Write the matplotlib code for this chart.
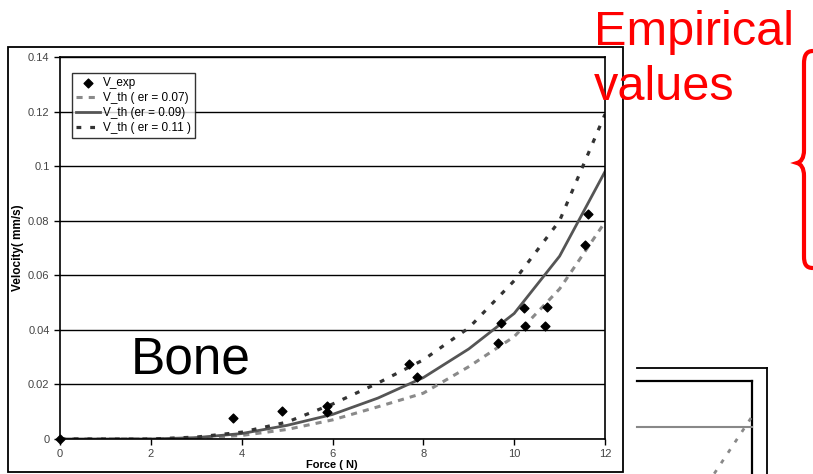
import matplotlib
matplotlib.use('Agg')
import matplotlib.pyplot as plt
from matplotlib import font_manager
from matplotlib.path import Path
from matplotlib.patches import PathPatch, Rectangle
from matplotlib.lines import Line2D

# measured points
force_exp = [0, 3.82, 4.88, 5.87, 5.87, 7.69, 7.85, 9.65, 9.72, 10.21, 10.23, 10.67, 10.72, 11.56, 11.62]
v_exp = [0, 0.0078, 0.0103, 0.0122, 0.0100, 0.0274, 0.0228, 0.0351, 0.0424, 0.0481, 0.0415, 0.0415, 0.0485, 0.0712, 0.0824]

# theoretical curves
force_th = [0, 1, 2, 3, 4, 5, 6, 7, 8, 9, 10, 11, 12]
v_th_07 = [0, 0, 0, 0.0003, 0.0013, 0.0035, 0.0070, 0.0118, 0.0168, 0.0265, 0.0375, 0.0550, 0.0795]
v_th_09 = [0, 0, 0, 0.0005, 0.0020, 0.0050, 0.0090, 0.0150, 0.0225, 0.0330, 0.0460, 0.0670, 0.0980]
v_th_11 = [0, 0, 0, 0.0007, 0.0025, 0.0062, 0.0128, 0.0205, 0.0290, 0.0407, 0.0580, 0.0800, 0.1190]

labels = ['V_exp', 'V_th ( er = 0.07)', 'V_th (er = 0.09)', 'V_th ( er = 0.11 )']
x_ticks = [0, 2, 4, 6, 8, 10, 12]
y_ticks = [0, 0.02, 0.04, 0.06, 0.08, 0.1, 0.12, 0.14]
y_ticklabels = ['0', '0.02', '0.04', '0.06', '0.08', '0.1', '0.12', '0.14']

W, H = 813, 474

def fx(px):
    return px / W

def fy(py):
    return 1 - py / H

names = {f.name for f in font_manager.fontManager.ttflist}
narrow = 'Liberation Sans Narrow' in names
plt.rcParams['font.family'] = ['Liberation Sans', 'DejaVu Sans']

fig = plt.figure(figsize=(W / 100, H / 100), dpi=100)
fig.patch.set_facecolor('white')

# outer chart frame
fig.patches.append(Rectangle((fx(8), fy(472)), fx(615), 425 / H, transform=fig.transFigure,
                             fill=False, edgecolor='black', linewidth=1.3))

ax = fig.add_axes([fx(60), fy(439), fx(545), 382 / H])
ax.plot(force_th, v_th_07, color='#8a8a8a', linewidth=2.2, dashes=(2, 2), label=labels[1])
ax.plot(force_th, v_th_09, color='#555555', linewidth=2, label=labels[2])
ax.plot(force_th, v_th_11, color='#333333', linewidth=2.3, dashes=(1.5, 2.8), label=labels[3])
ax.scatter(force_exp, v_exp, marker='D', s=20, color='black', zorder=5, clip_on=False, label=labels[0])

ax.set_xlim(0, 12)
ax.set_ylim(0, 0.14)
ax.set_xticks(x_ticks)
ax.set_yticks(y_ticks)
ax.set_yticklabels(y_ticklabels)
ax.tick_params(direction='out', length=4, width=1, colors='black', labelcolor='#444444', labelsize=8)
ax.tick_params(axis='x', pad=3)
ax.yaxis.grid(True, color='black', linewidth=1)
ax.set_axisbelow(True)
for s in ax.spines.values():
    s.set_color('black')
    s.set_linewidth(1.2)

# legend order: exp first
h, l = ax.get_legend_handles_labels()
order = [3, 0, 1, 2]
leg = ax.legend([h[i] for i in order], [l[i] for i in order], loc='upper left',
                bbox_to_anchor=(12 / 545, (439 - 73) / 382), borderaxespad=0, fontsize=8.5,
                frameon=True, fancybox=False, edgecolor='black', handlelength=2.0,
                handletextpad=0.3, labelspacing=0.25, borderpad=0.35)
leg.get_frame().set_linewidth(1)

fig.text(fx(18), fy(248), 'Velocity( mm/s)', rotation=90, fontsize=8.5, fontweight='bold',
         ha='center', va='center')
fig.text(fx(332), fy(465.5), 'Force ( N)', fontsize=8, fontweight='bold', ha='center', va='center')

# big annotations
if narrow:
    fig.text(fx(133), fy(373), 'Bone', fontsize=43, family='Liberation Sans Narrow', va='baseline')
else:
    fig.text(fx(131), fy(373), 'Bone', fontsize=37, va='baseline')
fig.text(fx(594), fy(45), 'Empirical', fontsize=35, color='red', va='baseline')
fig.text(fx(594), fy(100), 'values', fontsize=35, color='red', va='baseline')

# red curly brace
brace = [(813, 51), (806, 51), (804, 56), (804, 64),
         (804, 150),
         (804, 158), (801, 162), (797, 163),
         (801, 164), (804, 168), (804, 176),
         (804, 256),
         (804, 264), (806, 268), (813, 268)]
codes = [Path.MOVETO, Path.CURVE4, Path.CURVE4, Path.CURVE4, Path.LINETO,
         Path.CURVE4, Path.CURVE4, Path.CURVE4, Path.CURVE4, Path.CURVE4, Path.CURVE4,
         Path.LINETO, Path.CURVE4, Path.CURVE4, Path.CURVE4]
fig.patches.append(PathPatch(Path([(fx(a), fy(b)) for a, b in brace], codes), transform=fig.transFigure,
                             fill=False, edgecolor='red', linewidth=3))

# piece of the next chart in the corner
def seg(x0, y0, x1, y1, **kw):
    fig.lines.append(Line2D([fx(x0), fx(x1)], [fy(y0), fy(y1)], transform=fig.transFigure, **kw))

seg(637, 368, 767, 368, color='black', linewidth=1.3)
seg(767, 368, 767, 474, color='black', linewidth=1.3)
seg(637, 381, 752, 381, color='black', linewidth=1.6)
seg(752, 381, 752, 474, color='black', linewidth=1.6)
seg(637, 427, 752, 427, color='#888888', linewidth=1.5)
seg(751, 418, 714, 474, color='#888888', linewidth=2, dashes=(1.5, 3))

plt.savefig('out.png', dpi=100)
